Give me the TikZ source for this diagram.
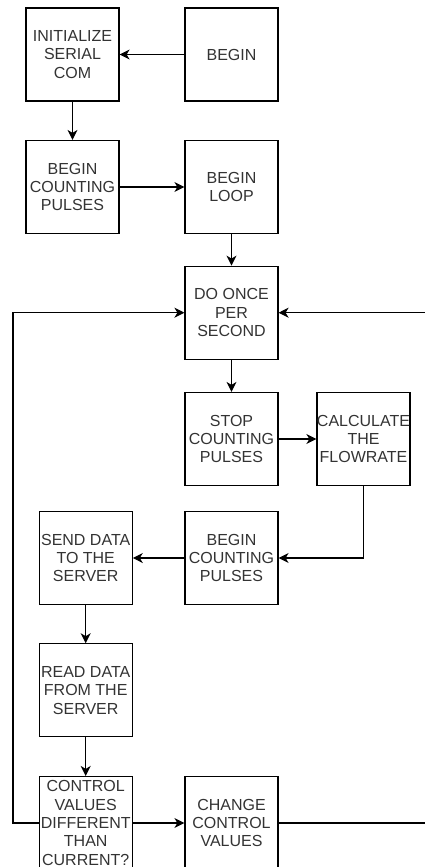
\documentclass[tikz,border=0pt]{standalone}
\usepackage{fontspec}
\setmainfont{Liberation Sans}
\usetikzlibrary{arrows.meta}

\begin{document}
\begin{tikzpicture}[x=1pt,y=-1pt,
    box/.style={draw,line width=1.2pt,minimum width=93pt,minimum height=93pt,inner sep=0pt,
      align=center,text=black!80,font=\fontsize{16}{18.4}\selectfont},
    flow/.style={line width=1.1pt,-{Stealth[length=10pt,width=10pt,inset=3pt]}}]
        \useasboundingbox (0,0) rectangle (425,867);
        \clip (0,0) rectangle (425,867);

        % start
        \node[box] (init) at (72.5,54.5) {INITIALIZE\\SERIAL\\COM};
        \node[box] (begin) at (231.5,54.5) {BEGIN};
        \node[box] (count) at (72.5,187) {BEGIN\\COUNTING\\PULSES};
        \node[box] (loop) at (231.5,187) {BEGIN\\LOOP};

        % every second
        \node[box] (once) at (231.5,312.7) {DO ONCE\\PER\\SECOND};
        \node[box] (stop) at (231.5,439) {STOP\\COUNTING\\PULSES};
        \node[box] (calc) at (363.5,439) {CALCULATE\\THE\\FLOWRATE};
        \node[box] (recount) at (231.5,558) {BEGIN\\COUNTING\\PULSES};

        % server
        \node[box] (send) at (85.7,558) {SEND DATA\\TO THE\\SERVER};
        \node[box] (read) at (85.7,690.3) {READ DATA\\FROM THE\\SERVER};
        \node[box] (check) at (85.7,823) {CONTROL\\VALUES\\DIFFERENT\\THAN\\CURRENT?};
        \node[box] (change) at (231.5,823) {CHANGE\\CONTROL\\VALUES};

        \coordinate (leftrail) at (13,0);
        \coordinate (rightrail) at (432,0);

        \draw[flow] (begin) -- (init);
        \draw[flow] (init) -- (count);
        \draw[flow] (count) -- (loop);
        \draw[flow] (loop) -- (once);
        \draw[flow] (once) -- (stop);
        \draw[flow] (stop) -- (calc);
        \draw[flow] (calc.south) |- (recount.east);
        \draw[flow] (recount) -- (send);
        \draw[flow] (send) -- (read);
        \draw[flow] (read) -- (check);
        \draw[flow] (check) -- (change);
        \draw[flow] (check.west) -- (check.west -| leftrail) |- (once.west);
        \draw[flow] (change.east) -- (change.east -| rightrail) |- (once.east);

      \end{tikzpicture}
\end{document}
